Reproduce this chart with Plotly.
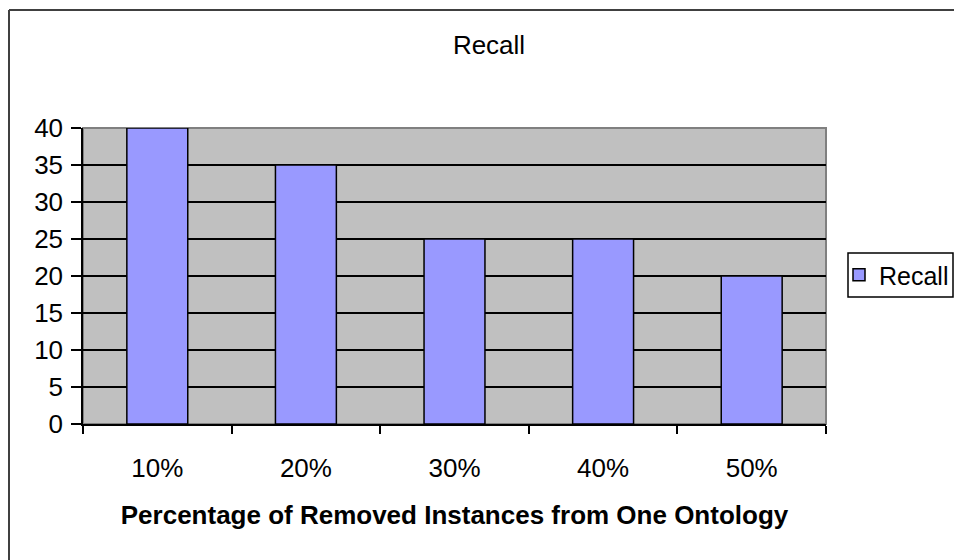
import plotly.graph_objects as go

categories = ["10%", "20%", "30%", "40%", "50%"]
recall = [40, 35, 25, 25, 20]
y_ticks = [0, 5, 10, 15, 20, 25, 30, 35, 40]

W, H = 954, 560
L, R, T, B = 83, 128, 128, 136
pw, ph = W - L - R, H - T - B

def px(x):
    return (x - L) / pw

def py(y):
    return (H - B - y) / ph

font = "Liberation Sans, Arial, sans-serif"
FS = 26

fig = go.Figure()
fig.add_trace(go.Bar(
    x=categories, y=recall, name="Recall",
    marker=dict(color="#9999FF", line=dict(color="black", width=1.5)),
))

fig.update_layout(
    width=W, height=H,
    margin=dict(l=L, r=R, t=T, b=B, autoexpand=False),
    paper_bgcolor="white",
    plot_bgcolor="#C0C0C0",
    bargap=0.59,
    showlegend=True,
    font=dict(family=font, size=FS, color="black"),
    title=dict(text="Recall", x=489 / W, xanchor="center",
               y=1 - 45 / H, yanchor="middle",
               font=dict(family=font, size=FS, color="black")),
    legend=dict(xref="container", yref="container",
                x=839 / W, y=1 - 275 / H, xanchor="left", yanchor="middle",
                borderwidth=0, bgcolor="rgba(0,0,0,0)",
                font=dict(family=font, size=25, color="black"),
                itemwidth=30, tracegroupgap=0),
    xaxis=dict(
        showline=True, linecolor="black", linewidth=1.5,
        ticks="outside", tickson="boundaries", ticklen=8, tickcolor="black",
        tickwidth=1.5, showgrid=False, ticklabelstandoff=20,
        title=dict(text="<b>Percentage of Removed Instances from One Ontology</b>",
                   font=dict(family=font, size=FS, color="black"), standoff=24),
        tickfont=dict(family=font, size=FS, color="black"),
    ),
    yaxis=dict(
        range=[0, 40], tickvals=y_ticks, showline=True, linecolor="black",
        linewidth=1.5, ticks="outside", ticklen=10, tickcolor="black",
        tickwidth=1.5, showgrid=True, gridcolor="black", gridwidth=1.5,
        zeroline=False, ticklabelstandoff=3,
        tickfont=dict(family=font, size=FS, color="black"),
    ),
    shapes=[
        dict(type="rect", xref="paper", yref="paper", x0=0, x1=1, y0=0, y1=1,
             line=dict(color="#808080", width=2), layer="between"),
        dict(type="line", xref="paper", yref="paper", x0=px(9), x1=px(960),
             y0=py(10), y1=py(10), line=dict(color="#404040", width=2)),
        dict(type="line", xref="paper", yref="paper", x0=px(9), x1=px(9),
             y0=py(10), y1=py(570), line=dict(color="#404040", width=2)),
        dict(type="rect", xref="paper", yref="paper", x0=px(848), x1=px(953),
             y0=py(297), y1=py(253), line=dict(color="black", width=1.5),
             fillcolor="white", layer="below"),
    ],
)

fig.write_html("out.html", post_script="document.body.style.margin='0';",
               config={"displayModeBar": False})
